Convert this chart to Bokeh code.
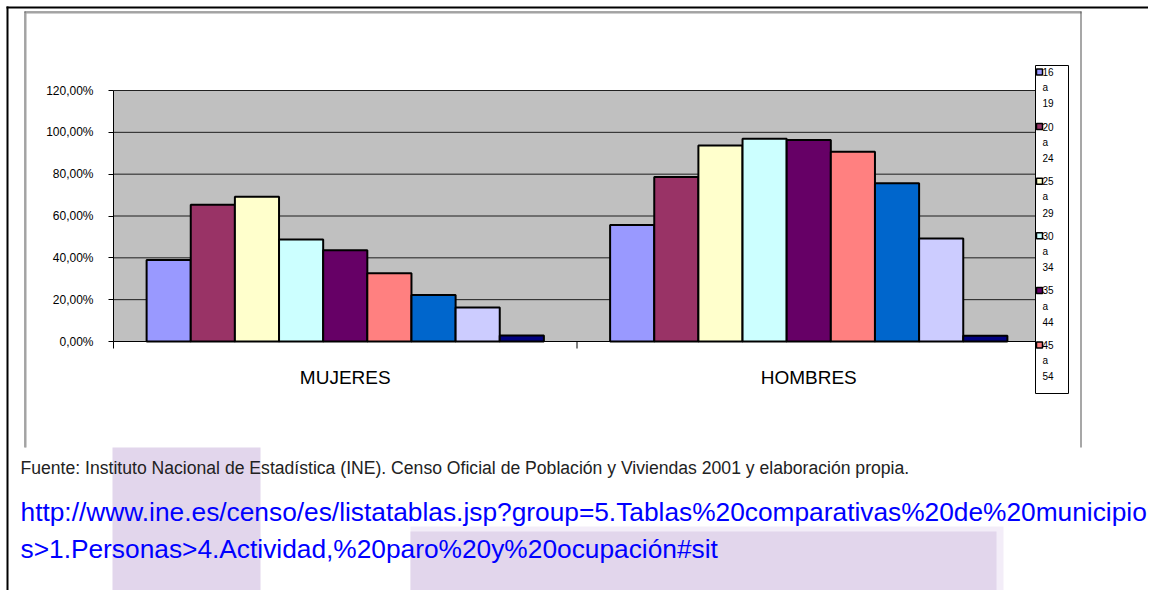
from bokeh.plotting import figure
from bokeh.models import (FactorRange, Range1d, ColumnDataSource, FixedTicker,
                          BoxAnnotation, Label)
from bokeh.transform import dodge
from bokeh.embed import file_html
from bokeh.resources import INLINE

# ---------------- data ----------------
categories = ["MUJERES", "HOMBRES"]
age_groups = ["16 a 19", "20 a 24", "25 a 29", "30 a 34", "35 a 44",
              "45 a 54", "55 a 59", "60 a 64", "65 y más"]
mujeres = [39.0, 65.4, 69.2, 48.8, 43.6, 32.6, 22.2, 16.2, 2.9]
hombres = [55.7, 78.6, 93.7, 96.9, 96.3, 90.7, 75.6, 49.2, 2.7]
colors = ["#9999FF", "#993366", "#FFFFCC", "#CCFFFF", "#660066",
          "#FF8080", "#0066CC", "#CCCCFF", "#000080"]
y_ticks = [0, 20, 40, 60, 80, 100, 120]
y_tick_labels = ["0,00%", "20,00%", "40,00%", "60,00%", "80,00%", "100,00%", "120,00%"]
legend_visible = 6
source_text = ("Fuente: Instituto Nacional de Estadística (INE). Censo Oficial de "
               "Población y Viviendas 2001 y elaboración propia.")
url_lines = ["http://www.ine.es/censo/es/listatablas.jsp?group=5.Tablas%20comparativas%20de%20municipio",
             "s>1.Personas>4.Actividad,%20paro%20y%20ocupación#sit"]

# ---------------- layout (pixels) ----------------
W, H = 1148, 590
FRAME_LEFT = 5
PLOT_L, PLOT_R = 113, 1040          # plot area, x
PLOT_T, PLOT_B = 90, 341            # plot area, y (120 % and 0 %)
frame_w = W - FRAME_LEFT
unit_px = (PLOT_R - PLOT_L) / len(categories)
pad = (frame_w / unit_px - len(categories)) / 2
px_per_pct = (PLOT_B - PLOT_T) / y_ticks[-1]
y_start = -(H - PLOT_B) / px_per_pct
y_end = PLOT_B / px_per_pct

p = figure(width=W, height=H,
           x_range=FactorRange(*categories, range_padding=pad,
                               range_padding_units="absolute"),
           y_range=Range1d(y_start, y_end),
           output_backend="svg", toolbar_location=None,
           min_border_left=FRAME_LEFT, min_border_right=0,
           min_border_top=0, min_border_bottom=0,
           background_fill_color="white", border_fill_color="white",
           outline_line_color=None)
p.title.visible = False
p.xgrid.visible = False
p.ygrid.visible = False

# grey plot area
p.add_layout(BoxAnnotation(left=0, right=len(categories), bottom=0, top=y_ticks[-1],
                           fill_color="#C0C0C0", fill_alpha=1.0, line_color=None,
                           level="image"))
# horizontal grid lines limited to the plot area
grid_src = ColumnDataSource(dict(y=y_ticks[1:]))
p.segment(x0=0, x1=len(categories), y0="y", y1="y", source=grid_src,
          line_color="black", line_width=1, line_alpha=0.85)

bw = 1 / 10.5
for i, col in enumerate(colors):
    src = ColumnDataSource(dict(cat=categories, val=[mujeres[i], hombres[i]]))
    p.vbar(x=dodge("cat", (i - 4) * bw, range=p.x_range), top="val", width=bw,
           source=src, fill_color=col, line_color="black", line_width=2)

ya = p.yaxis[0]
ya.fixed_location = 0
ya.bounds = (y_ticks[0], y_ticks[-1])
ya.ticker = FixedTicker(ticks=y_ticks)
ya.major_label_overrides = dict(zip(y_ticks, y_tick_labels))
ya.axis_line_color = "black"
ya.major_tick_line_color = "black"
ya.major_tick_out = 5
ya.major_tick_in = 0
ya.minor_tick_line_color = None
ya.major_label_standoff = 15
ya.major_label_text_font = "Liberation Sans"
ya.major_label_text_font_size = "12px"
ya.major_label_text_color = "black"

xa = p.xaxis[0]
xa.fixed_location = 0
xa.bounds = (0, len(categories))
xa.axis_line_color = "black"
xa.major_tick_line_color = None
xa.major_tick_out = 0
xa.major_tick_in = 0
xa.major_label_standoff = 25
xa.major_label_text_font = "Liberation Sans"
xa.major_label_text_font_size = "19px"
xa.major_label_text_color = "black"


def box(l, t, r, b, color):
    p.add_layout(BoxAnnotation(left=l, right=r, top=t, bottom=b,
                               left_units="canvas", right_units="canvas",
                               top_units="canvas", bottom_units="canvas",
                               fill_color=color, fill_alpha=1.0, line_color=None))


def label(x, y, text, size, color="black", font="Liberation Sans",
          align="left", baseline="alphabetic"):
    p.add_layout(Label(x=x, y=y, x_units="canvas", y_units="canvas",
                       text=text, text_font=font, text_font_size=size,
                       text_color=color, text_align=align, text_baseline=baseline))


# category boundary ticks
for k in range(len(categories) + 1):
    bx = PLOT_L + k * unit_px
    box(bx - 0.5, PLOT_B, bx + 0.5, PLOT_B + 7, "black")

# outer page border (black) and chart area border (grey)
box(6, 6, 1164, 8, "black")
box(6, 6, 8, 606, "black")
box(24, 11, 1081, 12, "#505050")
box(25, 12, 1081, 13, "#A0A0A0")
box(24, 11, 25, 447, "#505050")
box(25, 12, 26, 447, "#A0A0A0")
box(1080, 11, 1081, 447, "#505050")

# legend (truncated as in the original chart)
p.add_layout(BoxAnnotation(left=1035, right=1068, top=65, bottom=393,
                           left_units="canvas", right_units="canvas",
                           top_units="canvas", bottom_units="canvas",
                           fill_color="white", fill_alpha=1.0,
                           line_color="black", line_width=1, line_alpha=1.0))
y0, step, lstep = 71.5, 54.6, 15.7
for i in range(legend_visible):
    yy = y0 + i * step
    p.add_layout(BoxAnnotation(left=1036, right=1042, top=yy - 3, bottom=yy + 3,
                               left_units="canvas", right_units="canvas",
                               top_units="canvas", bottom_units="canvas",
                               fill_color=colors[i], fill_alpha=1.0,
                               line_color="black", line_width=1.5, line_alpha=1.0))
    for j, part in enumerate(age_groups[i].split(" ")):
        label(1042, yy + j * lstep, part, "10px", baseline="middle")

# highlight marks behind the footer text
box(112, 447, 260, 606, "#E2D6EC")
box(410, 526, 1003, 606, "#F3EDF8")
box(410, 531, 996, 606, "#E2D6EC")

# footer
label(20, 467, source_text, "17.6px", color="#222222")
label(20, 511, url_lines[0], "26.3px", color="#0000FF")
label(20, 548, url_lines[1], "26.3px", color="#0000FF")

open("out.html", "w").write(file_html(p, INLINE))
